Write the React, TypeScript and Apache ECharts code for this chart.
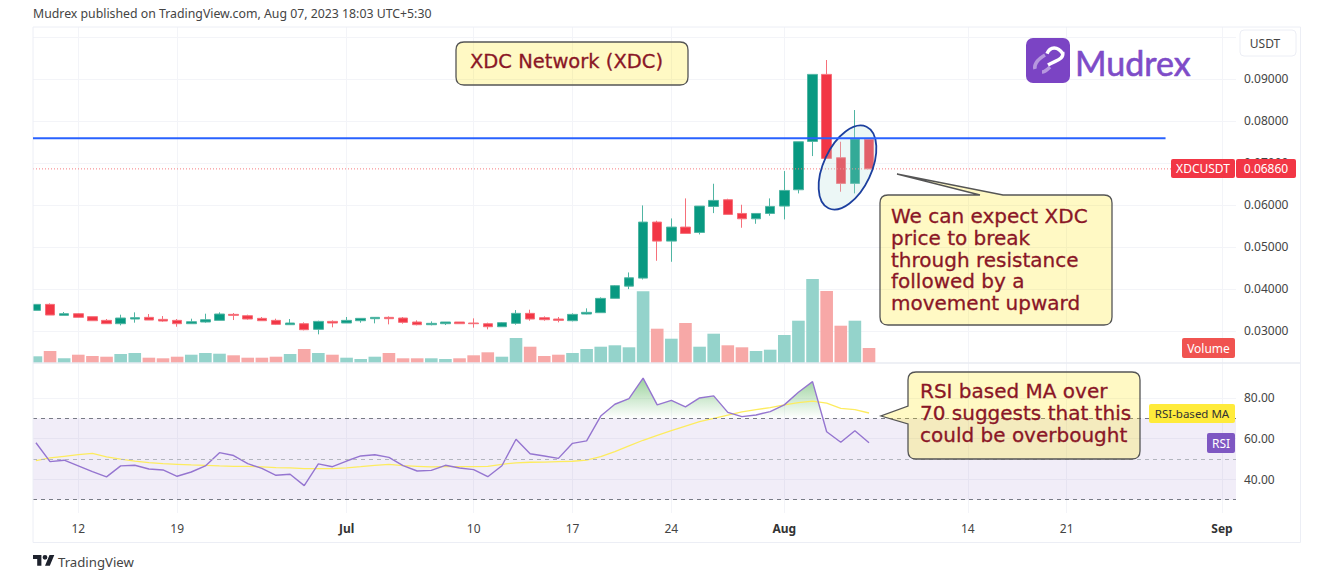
import React, { useEffect, useRef } from "react";
import * as echarts from "echarts";

// day numbers count from Jun 12, the first candle is Jun 9
const firstDay = -3;
const tickDays = [0, 7, 19, 28, 35, 42, 50, 63, 70, 81];
const tickLabels = ["12", "19", "Jul", "10", "17", "24", "Aug", "14", "21", "Sep"];
const monthLabels = ["Jul", "Aug", "Sep"];
const priceTicks = [0.03, 0.04, 0.05, 0.06, 0.07, 0.08, 0.09, 0.1];
const rsiTicks = [40, 60, 80];

// open, close, low, high
const candles = [
  [0.03491, 0.03634, 0.03491, 0.03634], [0.03634, 0.0338, 0.0338, 0.03658], [0.03372, 0.03412, 0.03372, 0.03452],
  [0.03412, 0.03325, 0.03317, 0.03428], [0.03341, 0.03245, 0.03245, 0.03341], [0.03253, 0.03174, 0.03174, 0.03285],
  [0.03174, 0.03309, 0.03134, 0.03388], [0.03285, 0.03317, 0.03198, 0.03444], [0.03325, 0.03261, 0.03261, 0.03404],
  [0.03277, 0.03237, 0.03221, 0.03356], [0.03253, 0.03174, 0.03102, 0.03285], [0.03174, 0.03221, 0.03174, 0.03293],
  [0.03214, 0.03269, 0.03198, 0.03412], [0.03253, 0.03404, 0.03253, 0.03444], [0.03396, 0.03372, 0.03261, 0.03428],
  [0.03364, 0.03285, 0.03269, 0.03388], [0.03301, 0.03245, 0.03245, 0.03333], [0.03253, 0.03158, 0.03142, 0.03293],
  [0.0315, 0.0319, 0.0315, 0.03285], [0.03174, 0.03031, 0.03015, 0.03206], [0.03039, 0.03229, 0.0292, 0.03245],
  [0.03229, 0.0319, 0.03087, 0.03253], [0.0319, 0.03253, 0.0319, 0.03333], [0.03245, 0.03301, 0.03198, 0.03301],
  [0.03293, 0.03325, 0.03182, 0.03325], [0.03325, 0.03293, 0.03158, 0.03349], [0.03309, 0.03206, 0.03174, 0.03333],
  [0.03214, 0.0315, 0.03134, 0.03253], [0.0315, 0.03182, 0.03134, 0.03229], [0.03174, 0.03214, 0.03142, 0.03214],
  [0.03214, 0.03174, 0.03174, 0.03214], [0.0319, 0.03174, 0.03079, 0.03301], [0.03174, 0.03102, 0.03039, 0.03198],
  [0.03102, 0.03198, 0.03102, 0.03214], [0.03182, 0.0342, 0.0315, 0.03499], [0.0342, 0.03285, 0.03245, 0.03507],
  [0.03317, 0.03269, 0.03245, 0.03349], [0.03285, 0.03253, 0.03206, 0.03333], [0.03245, 0.03396, 0.03229, 0.0342],
  [0.03404, 0.03444, 0.03396, 0.03539], [0.03436, 0.03777, 0.03436, 0.03801], [0.03777, 0.04079, 0.03777, 0.04095],
  [0.04068, 0.04267, 0.03997, 0.04394], [0.04259, 0.05593, 0.04227, 0.0599], [0.05593, 0.0514, 0.04672, 0.05625],
  [0.0514, 0.05474, 0.04648, 0.0568], [0.05474, 0.05323, 0.05323, 0.06157], [0.05347, 0.05974, 0.05299, 0.05974],
  [0.05966, 0.06109, 0.05807, 0.06506], [0.06125, 0.05776, 0.05776, 0.06149], [0.05799, 0.05672, 0.05458, 0.06006],
  [0.05672, 0.05799, 0.05553, 0.05799], [0.05799, 0.05966, 0.05744, 0.06157], [0.05974, 0.06347, 0.05657, 0.06808],
  [0.06363, 0.07506, 0.06276, 0.07506], [0.07514, 0.0911, 0.07165, 0.0911], [0.0911, 0.0711, 0.0711, 0.09452],
  [0.07125, 0.06514, 0.06316, 0.07506], [0.06514, 0.0757, 0.06276, 0.08261], [0.07562, 0.0686, 0.0686, 0.07562],
];

const volumes = [
  6.7, 12, 4.7, 8.3, 7, 6.3, 9, 10, 5.3, 4.7, 6.3, 8.3, 10, 9.3, 7.7, 5.3, 5.3, 6.3, 9, 14,
  10, 8.3, 5.3, 4, 6.3, 10, 4.7, 4.7, 4.7, 4, 4.7, 7.7, 10.7, 6.3, 25, 16.3, 7, 8.3, 10, 14,
  16.3, 17.7, 15.7, 71.7, 34.3, 24.3, 40, 16.3, 29.3, 17.7, 15.7, 12, 13.3, 28, 42.3, 84, 72, 37.3, 42.3, 15,
];

const rsi = [
  58, 48.7, 49.4, 46.6, 43.8, 41.2, 46.6, 46.9, 45.1, 44.6, 41.5, 43.6, 46.6, 53.1, 51.7, 47.7, 45.4, 42, 42.5, 36.9,
  47.6, 46.2, 49, 51.5, 52.1, 50.8, 46.7, 44.1, 44.4, 46.9, 45.6, 44.8, 41.3, 46.7, 59.7, 52.6, 51.5, 50.3, 57.7, 58.9,
  71.1, 76.9, 79.7, 89.7, 76.6, 78.8, 75.6, 80, 81, 72.9, 70.8, 71.6, 73.3, 76.6, 82.8, 88, 63.4, 58.2, 63.9, 58,
];

const rsiMa = [
  49.2, 50.5, 51.3, 52.1, 52.8, 51, 49.9, 49, 48.2, 47.7, 47.4, 47.1, 46.9, 46.6, 46.4, 46.4, 46.1, 45.8, 45.6, 45.3,
  45.3, 45.3, 45.6, 46.2, 46.9, 47.4, 46.7, 46.4, 46.1, 46.2, 46.2, 46.2, 46.4, 47.4, 48.1, 48.4, 48.5, 48.7, 48.9, 49.4,
  51.2, 53.6, 56.4, 59.2, 61.6, 63.9, 66.2, 68.4, 70, 71.6, 73.1, 74.3, 75.2, 76.6, 77.7, 78.4, 77.5, 74.9, 74.3, 72.6,
];

// where the RSI crosses 70, on the way up and on the way down
const overboughtStart = [36.9, 70];
const overboughtEnd = [52.73, 70];

const resistance = 0.07588;
const resistanceEndDay = 77;
const lastPrice = 0.0686;
const rsiBands = [70, 50, 30];

const xMin = -3.208;
const xMax = 81.99;
const font = "'Noto Sans', sans-serif";
const noteFont = "'DejaVu Sans', sans-serif";
const noteRed = "#8a1626";

echarts.graphic.registerShape(
  "noteTitle",
  echarts.graphic.extendPath(
    "M464 42H680Q688 42 688 50V77Q688 85 680 85H464Q456 85 456 77V50Q456 42 464 42Z",
    {}
  )
);
echarts.graphic.registerShape(
  "noteBreak",
  echarts.graphic.extendPath(
    "M888 195H980L897 174L1003 195H1104Q1112 195 1112 203V317Q1112 325 1104 325H888Q880 325 880 317V203Q880 195 888 195Z",
    {}
  )
);
echarts.graphic.registerShape(
  "noteRsi",
  echarts.graphic.extendPath(
    "M916 372H1132Q1140 372 1140 380V451Q1140 459 1132 459H916Q908 459 908 451V424L881 416L908 406V380Q908 372 916 372Z",
    {}
  )
);
echarts.graphic.registerShape(
  "mudrexMark",
  echarts.graphic.extendPath(
    "M1062.7 53.7C1058 46 1050 46 1047 53.7M1062.7 52C1064 60 1056 60 1048 65",
    {}
  )
);
echarts.graphic.registerShape(
  "mudrexFade",
  echarts.graphic.extendPath("M1045 55C1036 60 1034 66 1035 69M1050 67C1046 71 1043 72 1042 72", {})
);
echarts.graphic.registerShape(
  "tvLogo",
  echarts.graphic.extendPath("M14 22H7V11H0V4H14ZM28 22H20L27.5 4H35.5ZM24 8A4 4 0 1 1 16 8A4 4 0 1 1 24 8Z", {})
);

const tag = (x: number, y: number, w: number, h: number, fill: string, text: string, color: string, size = 12) => [
  { type: "rect", z: 20, shape: { x, y, width: w, height: h, r: 2 }, style: { fill } },
  {
    type: "text",
    z: 21,
    x: x + w / 2,
    y: y + h / 2,
    style: { text, fill: color, fontSize: size, fontFamily: font, align: "center", verticalAlign: "middle" },
  },
];

const note = (shape: string, textX: number, textY: number, lines: string[], size = 20) => [
  {
    type: shape,
    z: 15,
    style: { fill: "rgba(255,229,0,0.23)", stroke: "#555", lineWidth: 1.3 },
  },
  {
    type: "text",
    z: 16,
    x: textX,
    y: textY,
    style: {
      text: lines.join("\n"),
      fill: noteRed,
      stroke: noteRed,
      lineWidth: 0.3,
      fontSize: size,
      fontFamily: noteFont,
      lineHeight: 21.6,
      verticalAlign: "top",
    },
  },
];

const App: React.FC = () => {
  const chartRef = useRef<HTMLDivElement>(null);

  useEffect(() => {
    if (!chartRef.current) return;
    const chart = echarts.init(chartRef.current, null, { renderer: "svg" });

    const dayOf = (i: number) => firstDay + i;
    const overbought = [
      overboughtStart,
      ...rsi.map((v, i) => [dayOf(i), v]).filter(p => p[0] > overboughtStart[0] && p[0] < overboughtEnd[0]),
      overboughtEnd,
    ];

    const gridLine = { show: true, lineStyle: { color: "#f3f4f8", width: 1 } };

    const option = {
      animation: false,
      backgroundColor: "#ffffff",
      grid: [
        { left: 33, top: 27, width: 1203, height: 336 },
        { left: 33, top: 363, width: 1203, height: 150 },
      ],
      xAxis: [
        {
          type: "value",
          gridIndex: 0,
          min: xMin,
          max: xMax,
          axisLine: { show: false },
          axisTick: { show: false, customValues: tickDays },
          axisLabel: { show: false, customValues: tickDays },
          splitLine: gridLine,
        },
        {
          type: "value",
          gridIndex: 1,
          min: xMin,
          max: xMax,
          axisLine: { show: false },
          axisTick: { show: false, customValues: tickDays },
          axisLabel: {
            customValues: tickDays,
            margin: 9,
            color: "#444",
            fontSize: 12,
            fontFamily: font,
            formatter: (v: number) => {
              const label = tickLabels[tickDays.indexOf(v)] ?? "";
              return monthLabels.includes(label) ? `{m|${label}}` : label;
            },
            rich: { m: { fontWeight: "bold", color: "#333", fontSize: 12, fontFamily: font } },
          },
          splitLine: gridLine,
        },
      ],
      yAxis: [
        {
          type: "value",
          gridIndex: 0,
          position: "right",
          min: 0.02238,
          max: 0.10238,
          axisLine: { show: false },
          axisTick: { show: false, customValues: priceTicks },
          axisLabel: {
            customValues: priceTicks.slice(0, -1),
            margin: 8,
            color: "#444",
            fontSize: 12,
            fontFamily: font,
            formatter: (v: number) => v.toFixed(5),
          },
          splitLine: gridLine,
        },
        { type: "value", gridIndex: 0, min: 0, max: 336, show: false },
        {
          type: "value",
          gridIndex: 1,
          position: "right",
          min: 23.46,
          max: 97.17,
          axisLine: { show: false },
          axisTick: { show: false, customValues: rsiTicks },
          axisLabel: {
            customValues: rsiTicks,
            margin: 8,
            color: "#444",
            fontSize: 12,
            fontFamily: font,
            formatter: (v: number) => v.toFixed(2),
          },
          splitLine: gridLine,
        },
      ],
      series: [
        {
          type: "bar",
          name: "Volume",
          xAxisIndex: 0,
          yAxisIndex: 1,
          barWidth: 12.6,
          silent: true,
          data: volumes.map((v, i) => ({
            value: [dayOf(i), v],
            itemStyle: { color: candles[i][1] >= candles[i][0] ? "#94d3cb" : "#f7a8a7" },
          })),
        },
        {
          type: "candlestick",
          name: "XDCUSDT",
          xAxisIndex: 0,
          yAxisIndex: 0,
          barWidth: 10,
          silent: true,
          itemStyle: {
            color: "#089981",
            color0: "#f23645",
            borderColor: "#50b5a3",
            borderColor0: "#f6707a",
            borderWidth: 1,
          },
          data: candles.map((c, i) => [dayOf(i), c[0], c[1], c[2], c[3]]),
        },
        {
          type: "line",
          name: "Last price",
          xAxisIndex: 0,
          yAxisIndex: 0,
          symbol: "none",
          silent: true,
          z: 3,
          lineStyle: { color: "#f77c80", width: 1, type: [1, 2] },
          data: [
            [xMin, lastPrice],
            [xMax, lastPrice],
          ],
        },
        {
          type: "line",
          name: "Resistance",
          xAxisIndex: 0,
          yAxisIndex: 0,
          symbol: "none",
          silent: true,
          z: 7,
          lineStyle: { color: "#2962ff", width: 2 },
          data: [
            [xMin, resistance],
            [resistanceEndDay, resistance],
          ],
        },
        {
          type: "line",
          name: "Overbought",
          xAxisIndex: 1,
          yAxisIndex: 2,
          symbol: "none",
          silent: true,
          lineStyle: { width: 0 },
          areaStyle: {
            origin: 70,
            color: new echarts.graphic.LinearGradient(0, 0, 0, 1, [
              { offset: 0, color: "rgba(76,175,80,0.8)" },
              { offset: 1, color: "rgba(76,175,80,0)" },
            ]),
          },
          data: overbought,
        },
        {
          type: "line",
          name: "RSI-based MA",
          xAxisIndex: 1,
          yAxisIndex: 2,
          symbol: "none",
          silent: true,
          lineStyle: { color: "#fdec5f", width: 1.3 },
          data: rsiMa.map((v, i) => [dayOf(i), v]),
        },
        {
          type: "line",
          name: "RSI",
          xAxisIndex: 1,
          yAxisIndex: 2,
          symbol: "none",
          silent: true,
          lineStyle: { color: "#9575d0", width: 1.4 },
          data: rsi.map((v, i) => [dayOf(i), v]),
          markArea: {
            silent: true,
            itemStyle: { color: "rgba(126,87,194,0.11)" },
            data: [[{ yAxis: rsiBands[0] }, { yAxis: rsiBands[2] }]],
          },
          markLine: {
            silent: true,
            symbol: "none",
            label: { show: false },
            lineStyle: { color: "#787b86", type: [4, 4], width: 1 },
            data: [
              { yAxis: rsiBands[0] },
              { yAxis: rsiBands[1], lineStyle: { color: "#b2b5be", type: [4, 4], width: 1 } },
              { yAxis: rsiBands[2] },
            ],
          },
        },
      ],
      graphic: [
        {
          type: "text",
          x: 33,
          y: 13,
          style: {
            text: "Mudrex published on TradingView.com, Aug 07, 2023 18:03 UTC+5:30",
            fill: "#444",
            fontSize: 12.3,
            fontFamily: font,
            verticalAlign: "middle",
          },
        },
        // the first candle and bar stop at the pane's left edge
        { type: "rect", z: 5, shape: { x: 0, y: 27, width: 33, height: 336 }, style: { fill: "#ffffff" } },
        {
          type: "rect",
          z: 6,
          shape: { x: 33, y: 27, width: 1267.5, height: 515.5 },
          style: { fill: "none", stroke: "#eceef5", lineWidth: 1 },
        },
        { type: "line", z: 6, shape: { x1: 33, y1: 363, x2: 1300, y2: 363 }, style: { stroke: "#e9ebf2", lineWidth: 1.5 } },
        {
          type: "ellipse",
          z: 4,
          x: 847.5,
          y: 167.5,
          rotation: -0.436,
          shape: { cx: 0, cy: 0, rx: 24, ry: 45 },
          style: { fill: "rgba(178,223,219,0.25)", stroke: "#1c3f9e", lineWidth: 1.8 },
        },
        // callouts
        ...note("noteTitle", 470, 51, ["XDC Network (XDC)"], 19.5),
        ...note(
          "noteBreak",
          891,
          205.5,
          ["We can expect XDC", "price to break", "through resistance", "followed by a", "movement upward"]
        ),
        ...note("noteRsi", 920, 380.5, ["RSI based MA over", "70 suggests that this", "could be overbought"]),
        // logo
        { type: "rect", z: 10, shape: { x: 1026, y: 38, width: 44, height: 45, r: 7 }, style: { fill: "#7b44c4" } },
        { type: "mudrexFade", z: 11, style: { fill: "none", stroke: "rgba(255,255,255,0.45)", lineWidth: 3.5 } },
        { type: "mudrexMark", z: 11, style: { fill: "none", stroke: "#ffffff", lineWidth: 3.5 } },
        {
          type: "text",
          z: 11,
          x: 1075,
          y: 62,
          style: {
            text: "Mudrex",
            fill: "#7e4cc8",
            stroke: "#7e4cc8",
            lineWidth: 0.6,
            fontSize: 34,
            fontFamily: "Lato, sans-serif",
            verticalAlign: "middle",
          },
        },
        // price scale labels
        {
          type: "rect",
          z: 20,
          shape: { x: 1240, y: 30, width: 56, height: 26, r: 4 },
          style: { fill: "#ffffff", stroke: "#eceef5", lineWidth: 1 },
        },
        {
          type: "text",
          z: 21,
          x: 1265,
          y: 43,
          style: { text: "USDT", fill: "#444", fontSize: 12, fontFamily: font, align: "center", verticalAlign: "middle" },
        },
        ...tag(1171, 159, 64, 19, "#f23645", "XDCUSDT", "#ffffff"),
        ...tag(1236, 159, 60, 19, "#f23645", lastPrice.toFixed(5), "#ffffff"),
        ...tag(1182, 338, 53, 20, "#f05350", "Volume", "#ffffff"),
        ...tag(1149, 404, 86, 19, "#ffeb3b", "RSI-based MA", "#333333", 11.5),
        ...tag(1207, 433, 28, 20, "#7e57c2", "RSI", "#ffffff"),
        // footer
        { type: "tvLogo", x: 33, y: 552.5, scaleX: 0.6, scaleY: 0.6, style: { fill: "#1e222d" } },
        {
          type: "text",
          x: 58,
          y: 562,
          style: { text: "TradingView", fill: "#444", fontSize: 13.2, fontFamily: font, verticalAlign: "middle" },
        },
      ],
    };

    chart.setOption(option);

    return () => {
      chart.dispose();
    };
  }, []);

  return <div ref={chartRef} style={{ position: "fixed", left: 0, top: 0, width: 1321, height: 583 }} />;
};

export default App;
